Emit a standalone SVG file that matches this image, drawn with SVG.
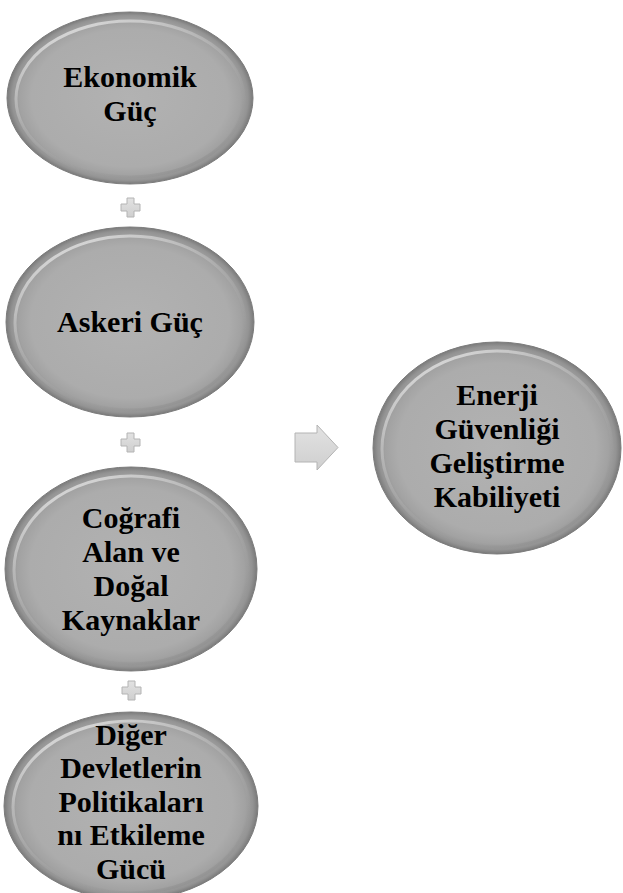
<svg xmlns="http://www.w3.org/2000/svg" width="623" height="893" viewBox="0 0 623 893">
  <defs>
    <radialGradient id="gBody" cx="0.5" cy="0.5" r="0.5">
      <stop offset="0" stop-color="#b2b2b2"/>
      <stop offset="0.8" stop-color="#acacac"/>
      <stop offset="0.9" stop-color="#a2a2a2"/>
      <stop offset="0.96" stop-color="#939393"/>
      <stop offset="1" stop-color="#7a7a7a"/>
    </radialGradient>
    <linearGradient id="gRim" x1="0.2" y1="0" x2="0.8" y2="1">
      <stop offset="0" stop-color="#e4e4e4" stop-opacity="0.9"/>
      <stop offset="0.45" stop-color="#c8c8c8" stop-opacity="0.3"/>
      <stop offset="0.75" stop-color="#9a9a9a" stop-opacity="0.2"/>
      <stop offset="1" stop-color="#8a8a8a" stop-opacity="0.6"/>
    </linearGradient>
    <linearGradient id="gShape" x1="0" y1="0" x2="0" y2="1">
      <stop offset="0" stop-color="#e2e2e2"/>
      <stop offset="1" stop-color="#cfcfcf"/>
    </linearGradient>
  </defs>
  <style>
    .body { fill: url(#gBody); stroke: #7c7c7c; stroke-width: 1; }
    .rim { fill: none; stroke: url(#gRim); stroke-width: 3; }
    .lbl { font-family: "Liberation Serif", "Times New Roman", serif; font-weight: bold; font-size: 30px; fill: #000; text-anchor: middle; }
    .op { fill: url(#gShape); stroke: #b4b4b4; stroke-width: 1; }
  </style>

  <g id="node-ekonomik">
    <ellipse class="body" cx="130" cy="98" rx="123" ry="86"/>
    <ellipse class="rim" cx="130" cy="99" rx="114" ry="78"/>
    <text class="lbl" x="130" y="87">Ekonomik</text>
    <text class="lbl" x="130" y="121">Güç</text>
  </g>

  <g id="node-askeri">
    <ellipse class="body" cx="130" cy="322" rx="124" ry="95"/>
    <ellipse class="rim" cx="130" cy="323" rx="115" ry="87"/>
    <text class="lbl" x="130" y="332">Askeri Güç</text>
  </g>

  <g id="node-cografi">
    <ellipse class="body" cx="131" cy="569" rx="126" ry="102"/>
    <ellipse class="rim" cx="131" cy="570" rx="117" ry="94"/>
    <text class="lbl" x="131" y="528">Coğrafi</text>
    <text class="lbl" x="131" y="562">Alan ve</text>
    <text class="lbl" x="131" y="596">Doğal</text>
    <text class="lbl" x="131" y="630">Kaynaklar</text>
  </g>

  <g id="node-diger">
    <ellipse class="body" cx="131" cy="806" rx="127" ry="94"/>
    <ellipse class="rim" cx="131" cy="807" rx="118" ry="86"/>
    <text class="lbl" x="131" y="745">Diğer</text>
    <text class="lbl" x="131" y="778">Devletlerin</text>
    <text class="lbl" x="131" y="812">Politikaları</text>
    <text class="lbl" x="131" y="845">nı Etkileme</text>
    <text class="lbl" x="131" y="879">Gücü</text>
  </g>

  <g id="node-enerji">
    <ellipse class="body" cx="497" cy="448" rx="124" ry="106"/>
    <ellipse class="rim" cx="497" cy="449" rx="115" ry="98"/>
    <text class="lbl" x="497" y="405">Enerji</text>
    <text class="lbl" x="497" y="439">Güvenliği</text>
    <text class="lbl" x="497" y="473">Geliştirme</text>
    <text class="lbl" x="497" y="507">Kabiliyeti</text>
  </g>

  <g id="connectors">
    <path class="op" d="M127,198 h7 v6 h6 v7 h-6 v6 h-7 v-6 h-6 v-7 h6 z"/>
    <path class="op" d="M127,433 h7 v6 h6 v7 h-6 v6 h-7 v-6 h-6 v-7 h6 z"/>
    <path class="op" d="M128,681 h7 v6 h6 v7 h-6 v6 h-7 v-6 h-6 v-7 h6 z"/>
    <path class="op" d="M295,433 h22 v-8 l21,22.5 l-21,22.5 v-8 h-22 z"/>
  </g>
</svg>
